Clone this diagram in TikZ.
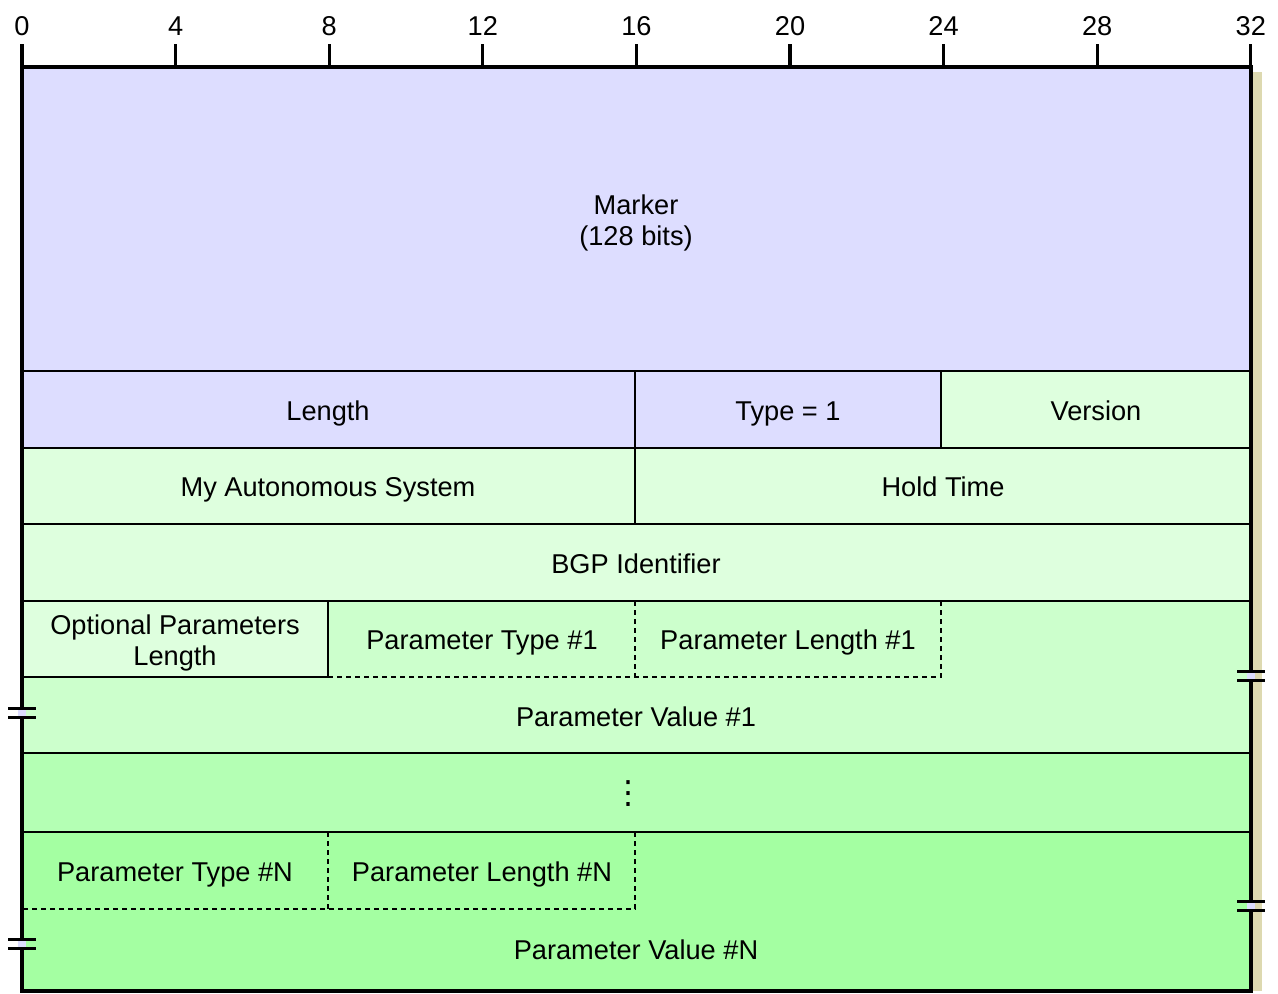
\documentclass[tikz,border=0pt]{standalone}
\usepackage{fontspec}
\setmainfont{Liberation Sans}
\newfontfamily\symboles{DejaVu Sans}
\usetikzlibrary{positioning}
\definecolor{lavande}{HTML}{DDDDFF}
\definecolor{vertpale}{HTML}{DEFFDE}
\definecolor{vertun}{HTML}{CCFFCC}
\definecolor{vertdeux}{HTML}{B4FFB4}
\definecolor{verttrois}{HTML}{A4FFA2}
\definecolor{ombre}{HTML}{DDD9B0}
\begin{document}
\begin{tikzpicture}[
  x = 0.75pt, y = -0.75pt,
  texte/.style    = {font=\fontsize{20.4}{23.2}\selectfont, align=center, inner sep=0pt},
  champ/.style    = {texte, text height=14.5pt, text depth=0pt},
  trait/.style    = {line width=1.1pt},
  pointille/.style = {line width=1.1pt, dash pattern=on 3.75pt off 3pt},
  cadre/.style    = {line width=2.3pt},
  coupure/.style  = {line width=2.2pt}
]
\useasboundingbox (0,0) rectangle (1278,993);
\fill[ombre] (1251,72) rectangle (1262,991);
\fill[lavande]   (22,67)   rectangle (1251,371);
\fill[lavande]   (22,371)  rectangle (941,448);
\fill[vertpale]  (941,371) rectangle (1251,448);
\fill[vertpale]  (22,448)  rectangle (1251,601);
\fill[vertpale]  (22,601)  rectangle (328,677);
\fill[vertun]    (328,601) rectangle (1251,677);
\fill[vertun]    (22,677)  rectangle (1251,753);
\fill[vertdeux]  (22,753)  rectangle (1251,832);
\fill[verttrois] (22,832)  rectangle (1251,991);
\foreach \y in {371,448,524,601,753,832}
  \draw[trait] (22,\y) -- (1251,\y);
\draw[trait] (635,371) -- (635,524);
\draw[trait] (941,371) -- (941,448);
\draw[trait] (328,601) -- (328,677) -- (22,677);
\draw[pointille] (328,677) -- (941,677) -- (941,601);
\draw[pointille] (635,601) -- (635,677);
\draw[pointille] (328,832) -- (328,909);
\draw[pointille] (635,832) -- (635,909) -- (22,909);
\draw[cadre] (22,67) rectangle (1251,991);
\foreach \b in {0,4,...,32} {
  \draw[cadre] ({22+\b*38.4},44) -- ({22+\b*38.4},67);
  \node[champ] (bit\b) at ({22+\b*38.4},26) {\b};
}
\node[texte] (marker)  at (636,223) {Marker\\(128 bits)};
\node[champ] (length)  at (328,411) {Length};
\node[champ] (type)    at (788,411) {Type = 1};
\node[champ] (version) at (1096,411) {Version};
\node[champ] (myas)    at (328,487) {My Autonomous System};
\node[champ] (hold)    at (943,487) {Hold Time};
\node[champ] (bgpid)   at (636,564) {BGP Identifier};
\node[texte] (optlen)  at (175,643) {Optional Parameters\\Length};
\node[champ] (ptypeA)  at (482,640) {Parameter Type \#1};
\node[champ] (plenA)   at (788,640) {Parameter Length \#1};
\node[champ] (pvalA)   at (636,717) {Parameter Value \#1};
\node[inner sep=0pt, font=\symboles\fontsize{24}{24}\selectfont] (suite) at (628,794) {⋮};
\node[champ] (ptypeN)  at (175,872) {Parameter Type \#N};
\node[champ] (plenN)   at (482,872) {Parameter Length \#N};
\node[champ] (pvalN)   at (636,950) {Parameter Value \#N};
\foreach \x/\y in {22/713, 22/944, 1251/676, 1251/906} {
  \fill[lavande] (\x-4,\y-4) rectangle (\x+4,\y+4);
  \draw[coupure] (\x-14,\y-4.5) -- (\x+14,\y-4.5);
  \draw[coupure] (\x-14,\y+4.5) -- (\x+14,\y+4.5);
}
\end{tikzpicture}
\end{document}
